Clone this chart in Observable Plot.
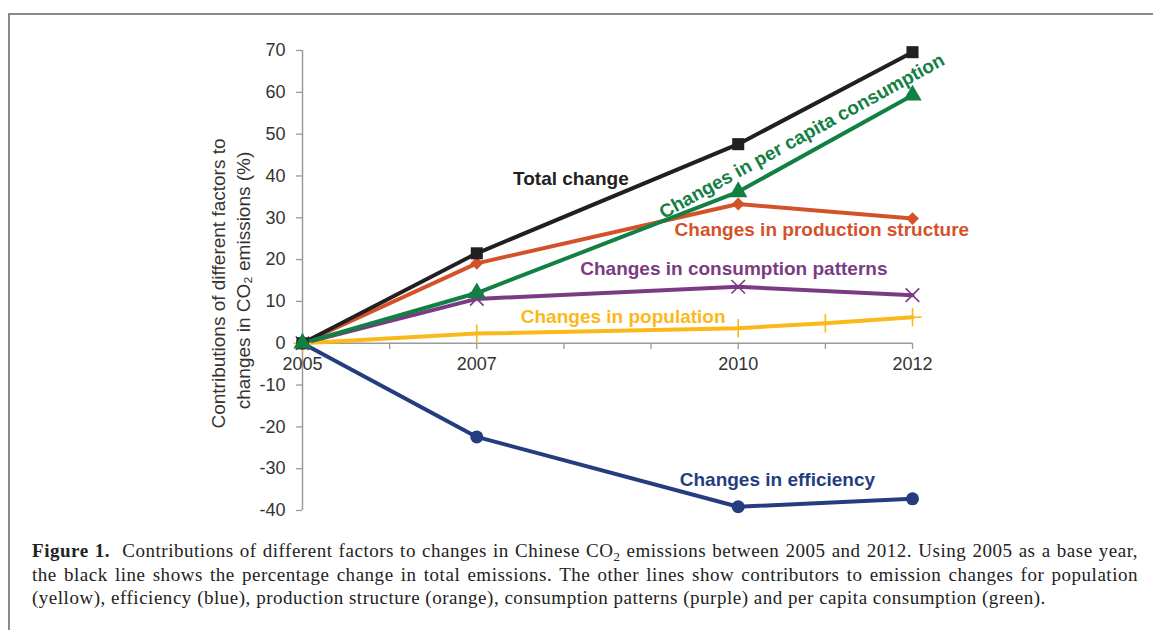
<!DOCTYPE html>
<html><head><meta charset="utf-8">
<script src="https://cdn.jsdelivr.net/npm/d3@7"></script>
<script src="https://cdn.jsdelivr.net/npm/@observablehq/plot@0.6"></script>
<style>
body{margin:0;background:#fff;width:1153px;height:630px;overflow:hidden;position:relative}
#frame{position:absolute;left:8px;top:13px;right:-10px;bottom:-10px;border-left:2px solid #8a8a8a;border-top:2px solid #8a8a8a}
#chart{position:absolute;left:0;top:0}
#caption{position:absolute;left:32px;top:539px;width:1106px;font-family:"Liberation Serif","Times New Roman",serif;font-size:19px;letter-spacing:0.52px;line-height:23.5px;color:#222;white-space:nowrap}
#caption .j{text-align:justify;text-align-last:justify}
#caption sub{font-size:0.68em;line-height:0;vertical-align:-0.28em}
</style></head><body>
<div id="frame"></div>
<div id="chart"></div>
<div id="caption">
<div class="j"><b>Figure 1.</b>&nbsp; Contributions of different factors to changes in Chinese CO<sub>2</sub> emissions between 2005 and 2012. Using 2005 as a base year,</div>
<div class="j">the black line shows the percentage change in total emissions. The other lines show contributors to emission changes for population</div>
<div>(yellow), efficiency (blue), production structure (orange), consumption patterns (purple) and per capita consumption (green).</div>
</div>
<script>
const years = [2005, 2007, 2010, 2012];
const total = [0, 21.5, 47.6, 69.6];
const perCapita = [0, 12.0, 36.2, 59.3];
const production = [0, 19.1, 33.3, 29.8];
const patterns = [0, 10.6, 13.5, 11.5];
const popYears = [2005, 2007, 2010, 2011, 2012];
const population = [0, 2.3, 3.6, 4.8, 6.2];
const efficiency = [0, -22.4, -39.1, -37.2];

const yTicks = [-40, -30, -20, -10, 0, 10, 20, 30, 40, 50, 60, 70];
const xTickMarks = [2005, 2006, 2007, 2008, 2009, 2010, 2011, 2012];
const xTickLabels = [2005, 2007, 2010, 2012];
const yLabelLines = ["Contributions of different factors to", "changes in CO\u2082 emissions (%)"];

const seriesNames = ["Changes in population", "Changes in efficiency", "Changes in consumption patterns", "Changes in production structure", "Total change", "Changes in per capita consumption"];
const seriesColors = ["#fbb819", "#253d7f", "#7b3b84", "#d4522a", "#231f20", "#138043"];
const seriesSymbols = ["plus", "circle", "times", "diamond2", "square", "triangle"];
const seriesX = [popYears, years, years, years, years, years];
const seriesY = [population, efficiency, patterns, production, total, perCapita];
// label anchors (data coordinates)
const labelX = [2008.68, 2010.45, 2009.95, 2010.96, 2008.08, 2010.73];
const labelY = [6.2, -32.6, 17.7, 27.0, 39.2, 49.5];
const labelRotate = [0, 0, 0, 0, 0, -28.8];

const rows = [];
seriesNames.forEach((name, i) => {
  seriesX[i].forEach((x, j) => rows.push({series: name, x, y: seriesY[i][j]}));
});
const labels = seriesNames.map((name, i) => ({text: name, x: labelX[i], y: labelY[i], rotate: labelRotate[i], color: seriesColors[i]}));

const dotMarks = seriesNames.map((name, i) => {
  const sym = seriesSymbols[i];
  const stroked = sym === "plus" || sym === "times";
  const r = {plus: 6, times: 6.2, circle: 6.5, diamond2: 5.8, square: 6.8, triangle: 6.8}[sym];
  return Plot.dot(rows.filter(d => d.series === name), {
    x: "x", y: "y", symbol: () => sym, r,
    fill: stroked ? "none" : seriesColors[i],
    stroke: stroked ? seriesColors[i] : "none",
    strokeWidth: stroked ? 1.6 : 0
  });
});

const chart = Plot.plot({
  width: 1153, height: 530,
  marginLeft: 302, marginRight: 241, marginTop: 50, marginBottom: 20,
  style: {fontFamily: "'Liberation Sans', Arial, sans-serif", background: "transparent", overflow: "visible"},
  x: {domain: [2005, 2012], axis: null},
  y: {domain: [-40, 70], axis: null},
  symbol: {type: "identity"},
  color: {domain: seriesNames, range: seriesColors},
  marks: [
    Plot.ruleX([2005], {stroke: "#9a9a9a", strokeWidth: 1.5}),
    Plot.ruleY(yTicks, {x1: 2005, x2: 2005, y: d => d, insetLeft: -6, stroke: "#9a9a9a", strokeWidth: 1.3}),
    Plot.text(yTicks, {frameAnchor: "left", y: d => d, text: d => String(d), textAnchor: "end", dx: -17, fontSize: 18, fill: "#333"}),
    Plot.ruleY([0], {stroke: "#9a9a9a", strokeWidth: 1.5}),
    Plot.ruleX(xTickMarks, {x: d => d, y1: 0, y2: -1.5, stroke: "#9a9a9a", strokeWidth: 1.3}),
    Plot.text(xTickLabels, {x: d => d, y: 0, dy: 21, text: d => String(d), fontSize: 18, fill: "#333"}),
    Plot.text([yLabelLines[0]], {frameAnchor: "left", textAnchor: "middle", text: d => d, rotate: -90, dx: -84, dy: 3, fontSize: 19, fill: "#333"}),
    Plot.text([yLabelLines[1]], {frameAnchor: "left", textAnchor: "middle", text: d => d, rotate: -90, dx: -59, dy: 0, fontSize: 19, fill: "#333"}),
    Plot.line(rows, {x: "x", y: "y", z: "series", stroke: "series", strokeWidth: 4}),
    ...dotMarks,
    Plot.text(labels, {x: "x", y: "y", text: "text", fill: "color", rotate: "rotate", fontWeight: "bold", fontSize: 19})
  ]
});
document.getElementById("chart").appendChild(chart);
</script>
</body></html>
